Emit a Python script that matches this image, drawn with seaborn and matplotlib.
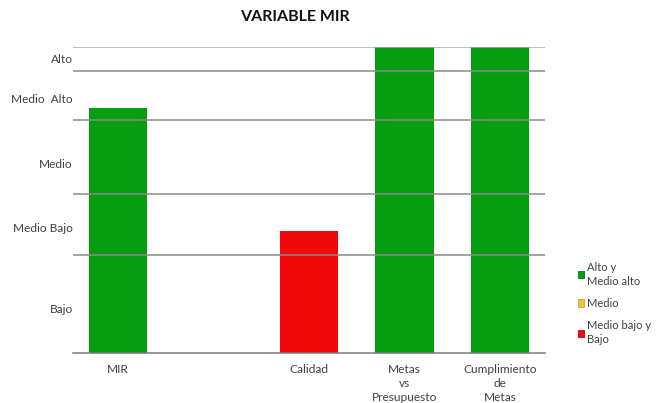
import matplotlib
matplotlib.use("Agg")
import matplotlib.pyplot as plt
import seaborn as sns
import pandas as pd
from matplotlib.patches import Patch

categorias = ["MIR", " ", "Calidad", "Metas\nvs\nPresupuesto", "Cumplimiento\nde\nMetas"]
valores = [80, None, 40, 100, 100]
colores = ["#069e10", "#ffffff", "#f20808", "#069e10", "#069e10"]

niveles = ["Alto", "Medio  Alto", "Medio", "Medio Bajo", "Bajo"]
pos_niveles = [96.4, 83.3, 62, 41, 14.4]
lineas = [32, 52, 76, 92, 100]

leyenda = ["Alto y\nMedio alto", "Medio", "Medio bajo y\nBajo"]
colores_leyenda = ["#069e10", "#f5c242", "#f20808"]
bordes_leyenda = ["#057a0c", "#e0a020", "#c00000"]

df = pd.DataFrame({"cat": categorias, "valor": valores})
df = df.dropna()

sns.set_theme(style="white")
plt.rcParams["font.family"] = ["Lato", "DejaVu Sans"]

fig = plt.figure(figsize=(6.59, 4.03), dpi=100)
ax = fig.add_axes([73 / 659, 50 / 403, 472 / 659, 306 / 403])

sns.barplot(data=df, x="cat", y="valor", order=categorias, hue="cat",
            palette=dict(zip(categorias, colores)), legend=False,
            width=0.61, saturation=1, edgecolor="none", ax=ax, zorder=2)

for y in lineas:
    ax.axhline(y, color="#8a8a8a" if y < 100 else "#a8a8a8", lw=1.1, zorder=3)

ax.set_xlim(-0.47, 4.47)
ax.set_ylim(0, 100)
ax.set_yticks(pos_niveles)
ax.set_yticklabels(niveles, fontsize=8.6, color="#404040")
ax.tick_params(axis="y", length=0, pad=0)
ax.tick_params(axis="x", length=0, labelsize=8.6, labelcolor="#404040", pad=8)
for t in ax.get_xticklabels():
    t.set_linespacing(1.35)
ax.set_xlabel("")
ax.set_ylabel("")
for s in ["left", "right", "top"]:
    ax.spines[s].set_visible(False)
ax.spines["bottom"].set_color("#7a7a7a")
ax.spines["bottom"].set_linewidth(1.1)

fig.text(0.447, 0.958, "VARIABLE MIR", ha="center", va="center",
         fontsize=11.5, fontweight="bold", color="#111111")

handles = [Patch(facecolor=c, edgecolor=e, linewidth=0.6)
           for c, e in zip(colores_leyenda, bordes_leyenda)]
leg = fig.legend(handles, leyenda, loc="upper left", bbox_to_anchor=(0.865, 0.37),
                 bbox_transform=fig.transFigure, frameon=False, fontsize=8.0,
                 handlelength=0.6, handleheight=0.6, handletextpad=0.25,
                 labelspacing=1.0, labelcolor="#404040", borderaxespad=0.3)
for t in leg.get_texts():
    t.set_linespacing(1.35)

fig.savefig("out.png", dpi=100)
